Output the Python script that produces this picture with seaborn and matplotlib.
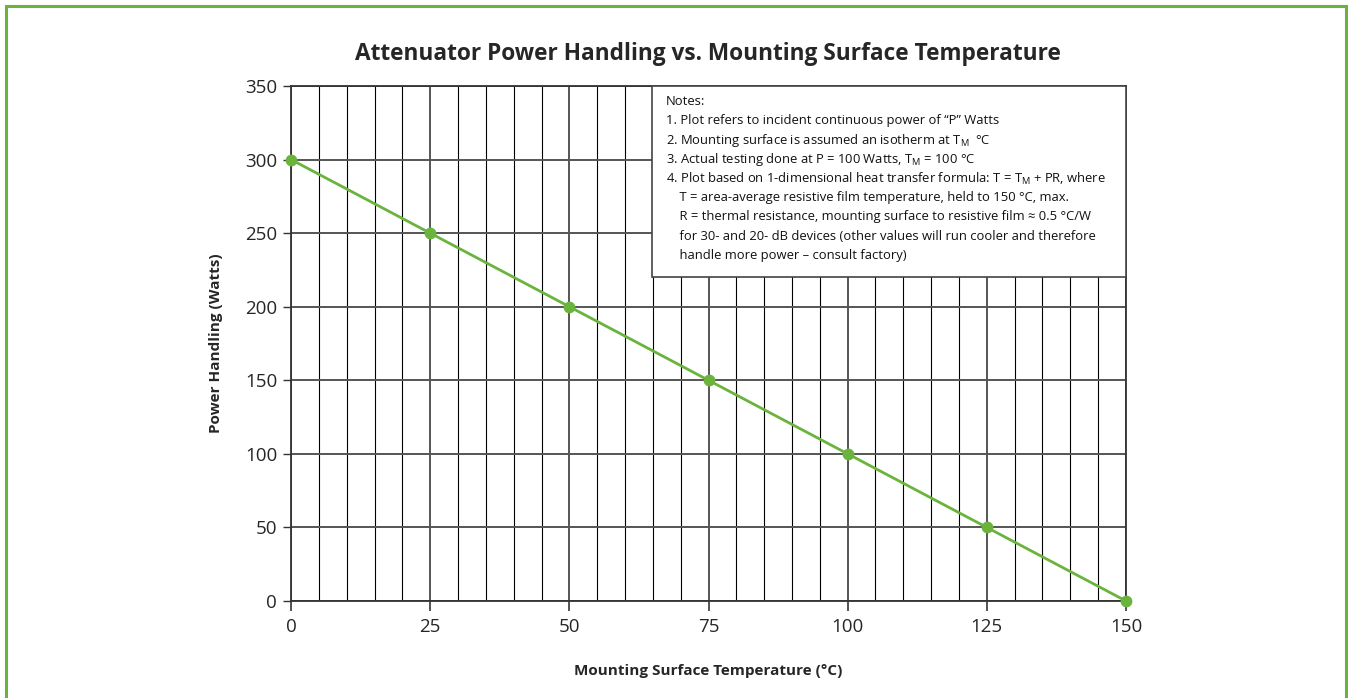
import numpy as np
import seaborn as sns
import matplotlib.pyplot as plt
from matplotlib.patches import Rectangle

# Data
temps = [0, 25, 50, 75, 100, 125, 150]          # Mounting surface temperature, °C
power = [300, 250, 200, 150, 100, 50, 0]        # Power handling, Watts

x_ticks = [0, 25, 50, 75, 100, 125, 150]
y_ticks = [0, 50, 100, 150, 200, 250, 300, 350]

notes = [
    "Notes:",
    "1. Plot refers to incident continuous power of \u201cP\u201d Watts",
    "2. Mounting surface is assumed an isotherm at T$_{\\mathrm{M}}$  \u00b0C",
    "3. Actual testing done at P = 100 Watts, T$_{\\mathrm{M}}$ = 100 \u00b0C",
    "4. Plot based on 1-dimensional heat transfer formula: T = T$_{\\mathrm{M}}$ + PR, where",
    "    T = area-average resistive film temperature, held to 150 \u00b0C, max.",
    "    R = thermal resistance, mounting surface to resistive film \u2248 0.5 \u00b0C/W",
    "    for 30- and 20- dB devices (other values will run cooler and therefore",
    "    handle more power \u2013 consult factory)",
]

GREEN = '#6ab43e'

sns.set_style('white')
plt.rcParams['font.family'] = ['Open Sans', 'DejaVu Sans']
plt.rcParams['mathtext.fontset'] = 'custom'
plt.rcParams['mathtext.rm'] = 'Open Sans'
plt.rcParams['mathtext.it'] = 'Open Sans:italic'
plt.rcParams['mathtext.bf'] = 'Open Sans:bold'

fig = plt.figure(figsize=(13.48, 6.98), dpi=100)
ax = fig.add_axes([0.2159, 0.139, 0.6194, 0.7378])

# Grid: major every 25 (x) / 50 (y), minor vertical every 5
ax.set_xticks(x_ticks)
ax.set_xticks(np.arange(0, 151, 5), minor=True)
ax.set_yticks(y_ticks)
ax.grid(which='major', axis='both', color='#555555', linewidth=1.4, zorder=0)
ax.grid(which='minor', axis='x', color='#000000', linewidth=0.8, zorder=0)
ax.set_axisbelow(True)

sns.lineplot(x=temps, y=power, ax=ax, color=GREEN, linewidth=2.0,
             marker='o', markersize=8.5, markeredgewidth=0, zorder=5,
             clip_on=False)

ax.set_xlim(0, 150)
ax.set_ylim(0, 350)

for side in ['left', 'bottom', 'top', 'right']:
    ax.spines[side].set_color('#333333')
    ax.spines[side].set_linewidth(1.3)

ax.tick_params(axis='x', which='major', direction='out', length=7.5, width=1.3,
               color='#444444', labelsize=13.5, pad=5, bottom=True)
ax.tick_params(axis='y', which='major', direction='out', length=6, width=1.0,
               color='#333333', labelsize=13.5, pad=4, left=True)
ax.tick_params(which='minor', length=0)

ax.set_xlabel('Mounting Surface Temperature (\u00b0C)', fontsize=11, fontweight='bold', labelpad=20)
ax.set_ylabel('Power Handling (Watts)', fontsize=11, fontweight='bold', labelpad=16)

fig.text(0.525, 0.923, 'Attenuator Power Handling vs. Mounting Surface Temperature',
         ha='center', va='center', fontsize=16.3, fontweight='bold')

# Notes box in the upper right of the plot area
box_left, box_bottom = 0.432, 0.629
ax.add_patch(Rectangle((box_left, box_bottom), 1 - box_left, 1 - box_bottom,
                       transform=ax.transAxes, facecolor='white',
                       edgecolor='#444444', linewidth=1.2, zorder=6))
line_px = [102, 121, 141, 160, 179, 198, 217, 237, 256]
for txt, ypx in zip(notes, line_px):
    ax.text(0.449, (601 - ypx) / 515, txt, transform=ax.transAxes,
            ha='left', va='center', fontsize=9.4, color='#111111', zorder=7)

# Green frame around the figure
fig.add_artist(Rectangle((0.0045, -0.05), 0.9940, 1.05 - 0.0086,
                         transform=fig.transFigure, fill=False,
                         edgecolor=GREEN, linewidth=2.2))

fig.savefig('out.png', dpi=100)
